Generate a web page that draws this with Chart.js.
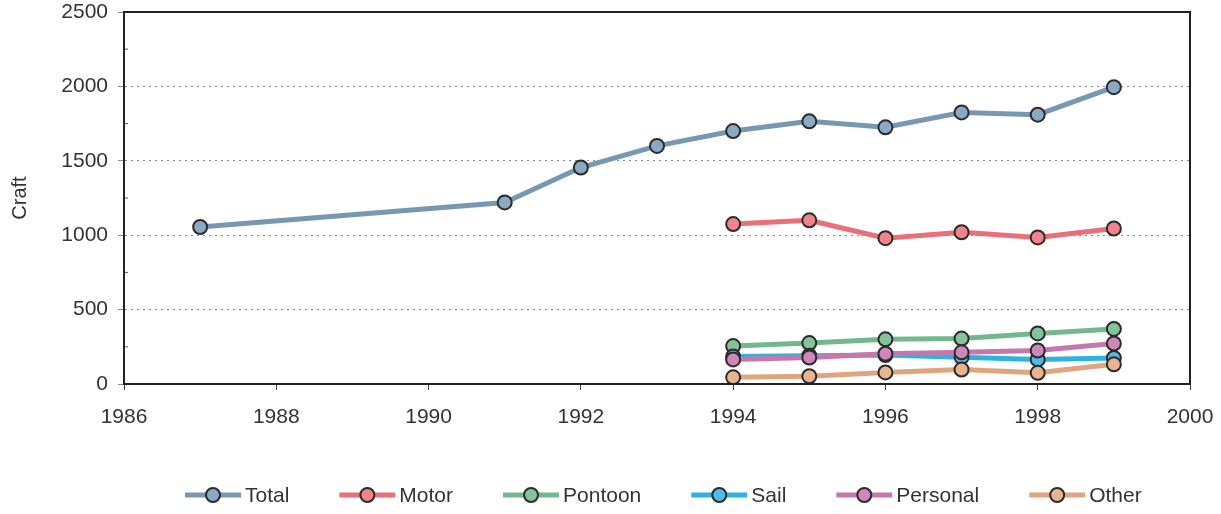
<!DOCTYPE html>
<html>
<head>
<meta charset="utf-8">
<script src="https://cdn.jsdelivr.net/npm/chart.js@4"></script>
<style>
  html, body { margin: 0; padding: 0; background: #fff; }
  #wrap { width: 1221px; height: 514px; }
</style>
</head>
<body>
<div id="wrap"><canvas id="craftChart" width="1221" height="514"></canvas></div>
<script>
// Data
const totalYears = [1987, 1991, 1992, 1993, 1994, 1995, 1996, 1997, 1998, 1999];
const totalCraft = [1055, 1220, 1455, 1600, 1700, 1765, 1725, 1825, 1810, 1995];

const typeYears = [1994, 1995, 1996, 1997, 1998, 1999];
const motorCraft = [1075, 1100, 980, 1020, 985, 1045];
const pontoonCraft = [255, 275, 300, 305, 340, 370];
const sailCraft = [185, 190, 195, 180, 165, 175];
const personalCraft = [165, 178, 204, 213, 225, 272];
const otherCraft = [45, 52, 78, 97, 75, 132];

const seriesNames = ["Total", "Motor", "Pontoon", "Sail", "Personal", "Other"];
const xTicks = [1986, 1988, 1990, 1992, 1994, 1996, 1998, 2000];
const yTicks = [0, 500, 1000, 1500, 2000, 2500];

const lineColors = ["#7897b2", "#ea6f78", "#72b88c", "#2fb2e2", "#c577ae", "#dfa57f"];
const fillColors = ["#8aaac4", "#f2838b", "#83c49b", "#4cbde6", "#cf86b9", "#e8b48f"];

function toPoints(years, values) {
    return years.map((yr, i) => ({ x: yr, y: values[i] }));
}

const seriesData = [
    toPoints(totalYears, totalCraft),
    toPoints(typeYears, motorCraft),
    toPoints(typeYears, pontoonCraft),
    toPoints(typeYears, sailCraft),
    toPoints(typeYears, personalCraft),
    toPoints(typeYears, otherCraft)
];

const datasets = seriesNames.map((name, i) => ({
    label: name,
    data: seriesData[i],
    borderColor: lineColors[i],
    backgroundColor: fillColors[i],
    borderWidth: 5,
    pointRadius: 7,
    pointBorderWidth: 2,
    pointBorderColor: "#2b2b2b",
    pointBackgroundColor: fillColors[i],
    order: seriesNames.length - i // later series drawn on top
}));

const fontFamily = "'Liberation Sans', Arial, sans-serif";

// frame around the plot area, plus the small minor ticks on the y axis
const framePlugin = {
    id: "frame",
    afterDraw(chart) {
        const a = chart.chartArea;
        const ctx = chart.ctx;
        const yScale = chart.scales.y;
        ctx.save();
        ctx.strokeStyle = "#555";
        ctx.lineWidth = 1;
        for (let i = 0; i < yTicks.length - 1; i++) {
            const py = yScale.getPixelForValue((yTicks[i] + yTicks[i + 1]) / 2);
            ctx.beginPath();
            ctx.moveTo(a.left, py);
            ctx.lineTo(a.left + 4, py);
            ctx.stroke();
        }
        ctx.strokeStyle = "#222";
        ctx.lineWidth = 2;
        ctx.strokeRect(a.left, a.top, a.right - a.left, a.bottom - a.top);
        ctx.restore();
    }
};

// legend drawn as line + marker + text, like the original
const legendPlugin = {
    id: "lineLegend",
    afterDraw(chart) {
        const ctx = chart.ctx;
        const y = 495;
        const segW = 56;
        const gap = 50;
        let x = 185;
        ctx.save();
        ctx.font = "21px " + fontFamily;
        ctx.textBaseline = "middle";
        seriesNames.forEach((name, i) => {
            ctx.strokeStyle = lineColors[i];
            ctx.lineWidth = 5;
            ctx.beginPath();
            ctx.moveTo(x, y);
            ctx.lineTo(x + segW, y);
            ctx.stroke();
            ctx.beginPath();
            ctx.arc(x + segW / 2, y, 7, 0, Math.PI * 2);
            ctx.fillStyle = fillColors[i];
            ctx.fill();
            ctx.lineWidth = 2;
            ctx.strokeStyle = "#2b2b2b";
            ctx.stroke();
            ctx.fillStyle = "#333";
            ctx.fillText(name, x + segW + 4, y + 1);
            x += segW + 4 + ctx.measureText(name).width + gap;
        });
        ctx.restore();
    }
};

new Chart(document.getElementById("craftChart"), {
    type: "line",
    data: { datasets: datasets },
    options: {
        responsive: false,
        animation: false,
        layout: { padding: { left: 0, right: 31, top: 12, bottom: 0 } },
        plugins: {
            legend: { display: false },
            tooltip: { enabled: false }
        },
        scales: {
            x: {
                type: "linear",
                min: xTicks[0],
                max: xTicks[xTicks.length - 1],
                afterBuildTicks: (scale) => { scale.ticks = xTicks.map(v => ({ value: v })); },
                afterFit: (scale) => {
                    scale.height = 130;
                    scale.paddingLeft = 0;
                    scale.paddingRight = 0;
                },
                grid: { drawOnChartArea: false, drawTicks: true, tickLength: 6, color: "#444" },
                border: { color: "#222", width: 2 },
                ticks: {
                    padding: 15,
                    color: "#333",
                    font: { family: fontFamily, size: 21 },
                    callback: (v) => String(v)
                }
            },
            y: {
                min: yTicks[0],
                max: yTicks[yTicks.length - 1],
                afterBuildTicks: (scale) => { scale.ticks = yTicks.map(v => ({ value: v })); },
                afterFit: (scale) => {
                    scale.width = 124;
                    scale.paddingTop = 0;
                    scale.paddingBottom = 0;
                },
                grid: { color: "#8a8a8a", lineWidth: 1, tickLength: 6 },
                border: { color: "#222", width: 2, dash: [2, 4] },
                title: {
                    display: true,
                    text: "Craft",
                    color: "#333",
                    font: { family: fontFamily, size: 20 },
                    padding: { top: 8, bottom: 0 }
                },
                ticks: {
                    padding: 10,
                    color: "#333",
                    font: { family: fontFamily, size: 21 },
                    callback: (v) => String(v)
                }
            }
        }
    },
    plugins: [framePlugin, legendPlugin]
});
</script>
</body>
</html>
